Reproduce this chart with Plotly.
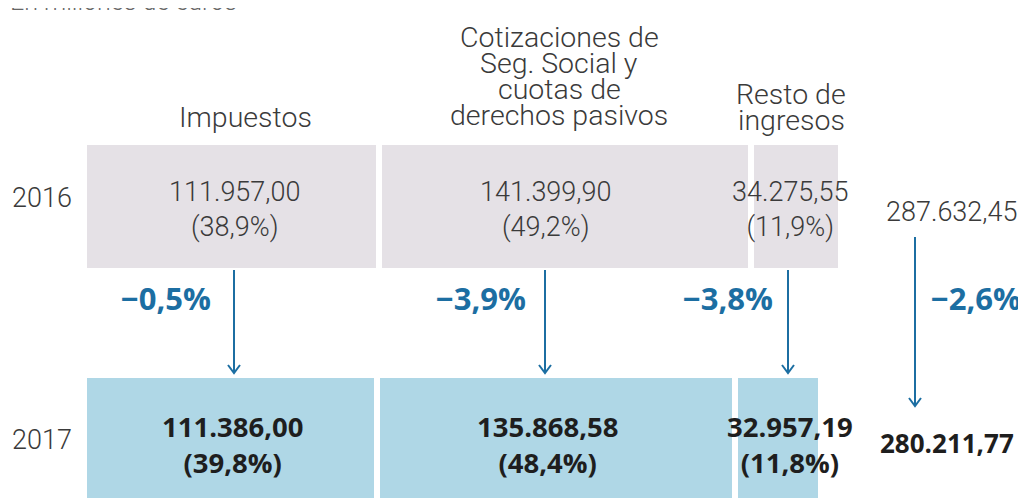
import plotly.graph_objects as go

# ---------------- data ----------------
years = ["2016", "2017"]
categories = ["Impuestos", "Cotizaciones de<br>Seg. Social y<br>cuotas de<br>derechos pasivos", "Resto de<br>ingresos"]
values_2016 = [111957.00, 141399.90, 34275.55]
values_2017 = [111386.00, 135868.58, 32957.19]
pct_2016 = ["38,9%", "49,2%", "11,9%"]
pct_2017 = ["39,8%", "48,4%", "11,8%"]
total_2016 = 287632.45
total_2017 = 280211.77
changes = ["−0,5%", "−3,9%", "−3,8%"]
total_change = "−2,6%"
subtitle = "En millones de euros"

# ---------------- layout constants ----------------
W, H = 1026, 498
OFF = 8  # page body margin
GRAY = "#e5e1e6"
BLUE = "#afd7e6"
ARROW = "#1c6ea2"
TXT = "#3a3a3a"
LIGHT = "Roboto"
BOLD = "Open Sans"

ppu = 757 / total_2016          # pixels per unit
x0_px = 84 - OFF
xr = [-x0_px / ppu, (W - x0_px) / ppu]
row_px = [206.5 - OFF, 439.5 - OFF]
ypu = row_px[1] - row_px[0]
yr = [1 + (H - row_px[1]) / ypu, -row_px[0] / ypu]
bar_w = 129 / ypu


def fmt(v):
    s = f"{v:,.2f}"
    return s.replace(",", "X").replace(".", ",").replace("X", ".")


def px(sx):
    return (sx - OFF) / W


def py(sy):
    return 1 - (sy - OFF) / H


fig = go.Figure()
for i, cat in enumerate(categories):
    fig.add_trace(go.Bar(
        y=[0, 1], x=[values_2016[i], values_2017[i]], orientation="h",
        marker=dict(color=[GRAY, BLUE], line=dict(color="white", width=6)),
        width=bar_w, showlegend=False, hoverinfo="skip", name=cat.replace("<br>", " "),
    ))

ann = []


def txt(text, sx, sy, size, family=LIGHT, color=TXT, weight=300, xanchor="center", yanchor="middle"):
    ann.append(dict(text=text, x=px(sx), y=py(sy), xref="paper", yref="paper",
                    xanchor=xanchor, yanchor=yanchor, showarrow=False,
                    font=dict(family=family, size=size, color=color, weight=weight)))


# subtitle (cut at top, as in the original)
ann.append(dict(text=subtitle, x=0, y=1 - 10 / H, xref="paper", yref="paper",
                xanchor="left", yanchor="bottom", showarrow=False,
                font=dict(family=LIGHT, size=25, color="#666", weight=300)))

# headers (one line at a time, tight leading)
hdr_x = [245, 559, 791]
hdr_y = [[118], [37, 63, 89, 115], [95, 120]]
for i, cat in enumerate(categories):
    for k, line in enumerate(cat.split("<br>")):
        txt(line, hdr_x[i], hdr_y[i][k], 28.5)

# year labels
year_y = [197.5, 440]
for j, yv in enumerate(years):
    txt(yv, 42, year_y[j], 27)

# 2016 values
v16_x = [234, 545, 790]
for i in range(3):
    txt(f"{fmt(values_2016[i])}<br>({pct_2016[i]})", v16_x[i], 209, 27)
txt(fmt(total_2016), 951, 212, 27)

# 2017 values
v17_x = [232, 547, 790]
for i in range(3):
    txt(f"{fmt(values_2017[i])}<br>({pct_2017[i]})", v17_x[i], 444, 27.5,
        family=BOLD, color="#1e1e1e", weight=700)
txt(fmt(total_2017), 947, 443, 26, family=BOLD, color="#1e1e1e", weight=700)

# change labels
chg_x = [166, 481, 728]
for i in range(3):
    txt(changes[i], chg_x[i], 297.5, 31, family=BOLD, color=ARROW, weight=700)
txt(total_change, 976, 297.5, 31, family=BOLD, color=ARROW, weight=700)

# arrows
shapes = []
arrow_specs = [(234, 270, 373), (545, 270, 373), (788, 270, 373), (915, 237, 406)]
for ax_px, top, tip in arrow_specs:
    path = (f"M {px(ax_px)} {py(top)} L {px(ax_px)} {py(tip)} "
            f"M {px(ax_px - 6)} {py(tip - 8)} L {px(ax_px)} {py(tip)} L {px(ax_px + 6)} {py(tip - 8)}")
    shapes.append(dict(type="path", path=path, xref="paper", yref="paper",
                       line=dict(color=ARROW, width=2)))

fig.update_layout(
    width=W, height=H, margin=dict(l=0, r=0, t=0, b=0),
    paper_bgcolor="white", plot_bgcolor="white",
    barmode="stack", bargap=0,
    xaxis=dict(range=xr, visible=False, fixedrange=True),
    yaxis=dict(range=yr, visible=False, fixedrange=True),
    annotations=ann, shapes=shapes,
)

fig.write_html("out.html")
